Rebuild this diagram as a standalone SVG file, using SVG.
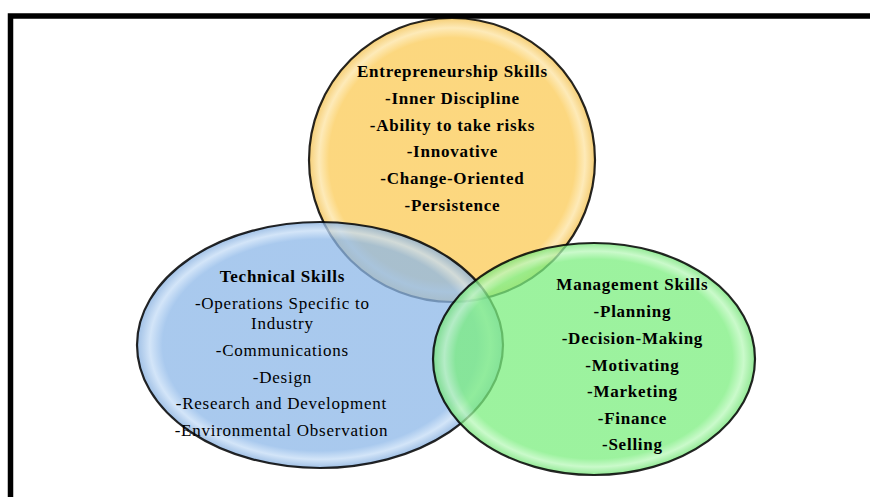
<svg xmlns="http://www.w3.org/2000/svg" width="870" height="497" viewBox="0 0 870 497">
<defs>
<radialGradient id="gy" cx="50%" cy="50%" r="50%">
<stop offset="0%" stop-color="#FBCA54"/><stop offset="86%" stop-color="#FBCA54"/><stop offset="93%" stop-color="#FDE3A0"/><stop offset="100%" stop-color="#F2BE48"/>
</radialGradient>
<radialGradient id="gb" cx="50%" cy="50%" r="50%">
<stop offset="0%" stop-color="#8CB7E8"/><stop offset="86%" stop-color="#8CB7E8"/><stop offset="93%" stop-color="#C4DCF6"/><stop offset="100%" stop-color="#80ABDD"/>
</radialGradient>
<radialGradient id="gg" cx="50%" cy="50%" r="50%">
<stop offset="0%" stop-color="#7BEE7E"/><stop offset="86%" stop-color="#7BEE7E"/><stop offset="93%" stop-color="#B8F8B9"/><stop offset="100%" stop-color="#6FE272"/>
</radialGradient>
</defs>
<style>
.c{fill-opacity:0.75;stroke:#000;stroke-width:2.2;stroke-opacity:0.85}
text{font-family:"Liberation Serif","Times New Roman",serif;font-size:17px;letter-spacing:0.75px;fill:#000;text-anchor:middle}
.b{font-weight:bold}
</style>
<rect width="870" height="497" fill="#fff"/>
<path d="M10.5 497 V16 H870" fill="none" stroke="#000" stroke-width="5.5"/>
<g id="entrepreneurship">
<ellipse class="c" cx="452" cy="160" rx="143" ry="142" fill="url(#gy)"/>
</g>
<g id="technical">
<ellipse class="c" cx="320" cy="345" rx="183" ry="123" fill="url(#gb)"/>
</g>
<g id="management">
<ellipse class="c" cx="594" cy="359" rx="161" ry="116" fill="url(#gg)"/>
</g>
<g id="labels">
<text class="b" x="452.4" y="77">Entrepreneurship Skills</text>
<text class="b" x="452.4" y="104">-Inner Discipline</text>
<text class="b" x="452.4" y="131">-Ability to take risks</text>
<text class="b" x="452.4" y="157">-Innovative</text>
<text class="b" x="452.4" y="184">-Change-Oriented</text>
<text class="b" x="452.4" y="211">-Persistence</text>
<text class="b" x="282.4" y="282">Technical Skills</text>
<text x="282.4" y="309">-Operations Specific to</text>
<text x="282.4" y="329">Industry</text>
<text x="282.4" y="356">-Communications</text>
<text x="282.4" y="383">-Design</text>
<text x="281.4" y="409">-Research and Development</text>
<text x="281.4" y="436">-Environmental Observation</text>
<text class="b" x="632.4" y="290">Management Skills</text>
<text class="b" x="632.4" y="317">-Planning</text>
<text class="b" x="632.4" y="344">-Decision-Making</text>
<text class="b" x="632.4" y="371">-Motivating</text>
<text class="b" x="632.4" y="397">-Marketing</text>
<text class="b" x="632.4" y="424">-Finance</text>
<text class="b" x="632.4" y="450">-Selling</text>
</g>
</svg>
